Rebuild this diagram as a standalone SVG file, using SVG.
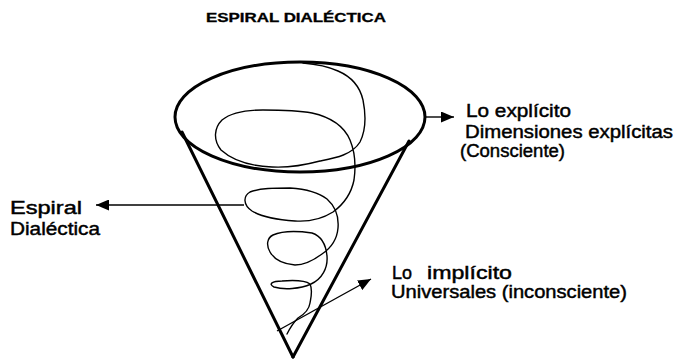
<svg xmlns="http://www.w3.org/2000/svg" width="678" height="360" viewBox="0 0 678 360">
<style>
  .lbl { font-family: "Liberation Sans", Arial, sans-serif; font-size: 18px; fill: #000; stroke: #000; stroke-width: 0.45; }
  .title { font-family: "Liberation Sans", Arial, sans-serif; font-size: 12.5px; font-weight: bold; fill: #000; stroke: #000; stroke-width: 0.3; }
  .thick { fill: none; stroke: #000; stroke-width: 3; stroke-linecap: round; stroke-linejoin: round; }
  .thin { fill: none; stroke: #000; stroke-width: 1.4; stroke-linecap: round; stroke-linejoin: round; }
  .conn { fill: none; stroke: #000; stroke-width: 1.4; }
</style>
<defs>
  <marker id="ah" markerUnits="userSpaceOnUse" markerWidth="14" markerHeight="11" refX="13" refY="5.5" orient="auto">
    <path d="M0,0 L13,5.5 L0,11 z" fill="#000"/>
  </marker>
</defs>
<rect width="678" height="360" fill="#fff"/>
<text class="title" x="206" y="22" textLength="180" lengthAdjust="spacingAndGlyphs">ESPIRAL DIALÉCTICA</text>

<g id="cone">
  <ellipse class="thick" cx="300" cy="117" rx="125" ry="55"/>
  <line class="thick" x1="182" y1="132" x2="293" y2="357"/>
  <line class="thick" x1="409" y1="141" x2="293" y2="357"/>
</g>

<g id="spiral">
  <path class="thin" d="M303,63 C315,64 327,66 338,71 C352,77 360,87 363,100 C366,115 366,130 360,142 C352,155 335,158 320,161 C305,165 290,168 272,167 C250,166 232,160 221,150 C213,140 214,128 222,120 C232,112 248,110 263,110 C280,110 296,110 312,113 C330,117 344,126 350,140 C355,152 356,166 354,180 C351,195 344,204 333,212 C322,219 310,222 295,221 C280,220 262,217 252,211 C243,205 243,196 250,192 C260,188 275,188 290,188 C305,189 318,192 327,199 C336,207 339,216 338,228 C337,240 331,248 322,254 C314,260 305,265 295,265 C283,264 274,259 270,252 C266,245 267,238 273,235 C282,231 298,231 312,233 C321,236 326,245 327,256 C328,268 322,279 311,284 C300,289 284,290 274,287 C268,284 272,281 282,281 C295,280 306,281 310,284 C313,290 311,297 310,303 C309,310 305,314 298,318 C294,322 290,328 287,334"/>
</g>

<g id="label-explicito">
  <text class="lbl" x="466" y="117" textLength="105" lengthAdjust="spacingAndGlyphs">Lo explícito</text>
  <text class="lbl" x="465" y="138" textLength="208" lengthAdjust="spacingAndGlyphs">Dimensiones explícitas</text>
  <text class="lbl" x="460" y="157" textLength="105" lengthAdjust="spacingAndGlyphs">(Consciente)</text>
</g>

<g id="label-espiral">
  <text class="lbl" x="10" y="214" textLength="72" lengthAdjust="spacingAndGlyphs">Espiral</text>
  <text class="lbl" x="10" y="235" textLength="90" lengthAdjust="spacingAndGlyphs">Dialéctica</text>
</g>

<g id="label-implicito">
  <text class="lbl" y="279"><tspan x="392" textLength="20" lengthAdjust="spacingAndGlyphs">Lo</tspan><tspan x="427" textLength="85" lengthAdjust="spacingAndGlyphs">implícito</tspan></text>
  <text class="lbl" x="391" y="298" textLength="236" lengthAdjust="spacingAndGlyphs">Universales (inconsciente)</text>
</g>

<g id="connectors">
  <line class="conn" x1="425" y1="117" x2="454" y2="117" marker-end="url(#ah)"/>
  <line class="conn" x1="244" y1="205" x2="96" y2="205" marker-end="url(#ah)"/>
  <line class="conn" x1="277" y1="331" x2="371" y2="279" marker-end="url(#ah)"/>
</g>
</svg>
